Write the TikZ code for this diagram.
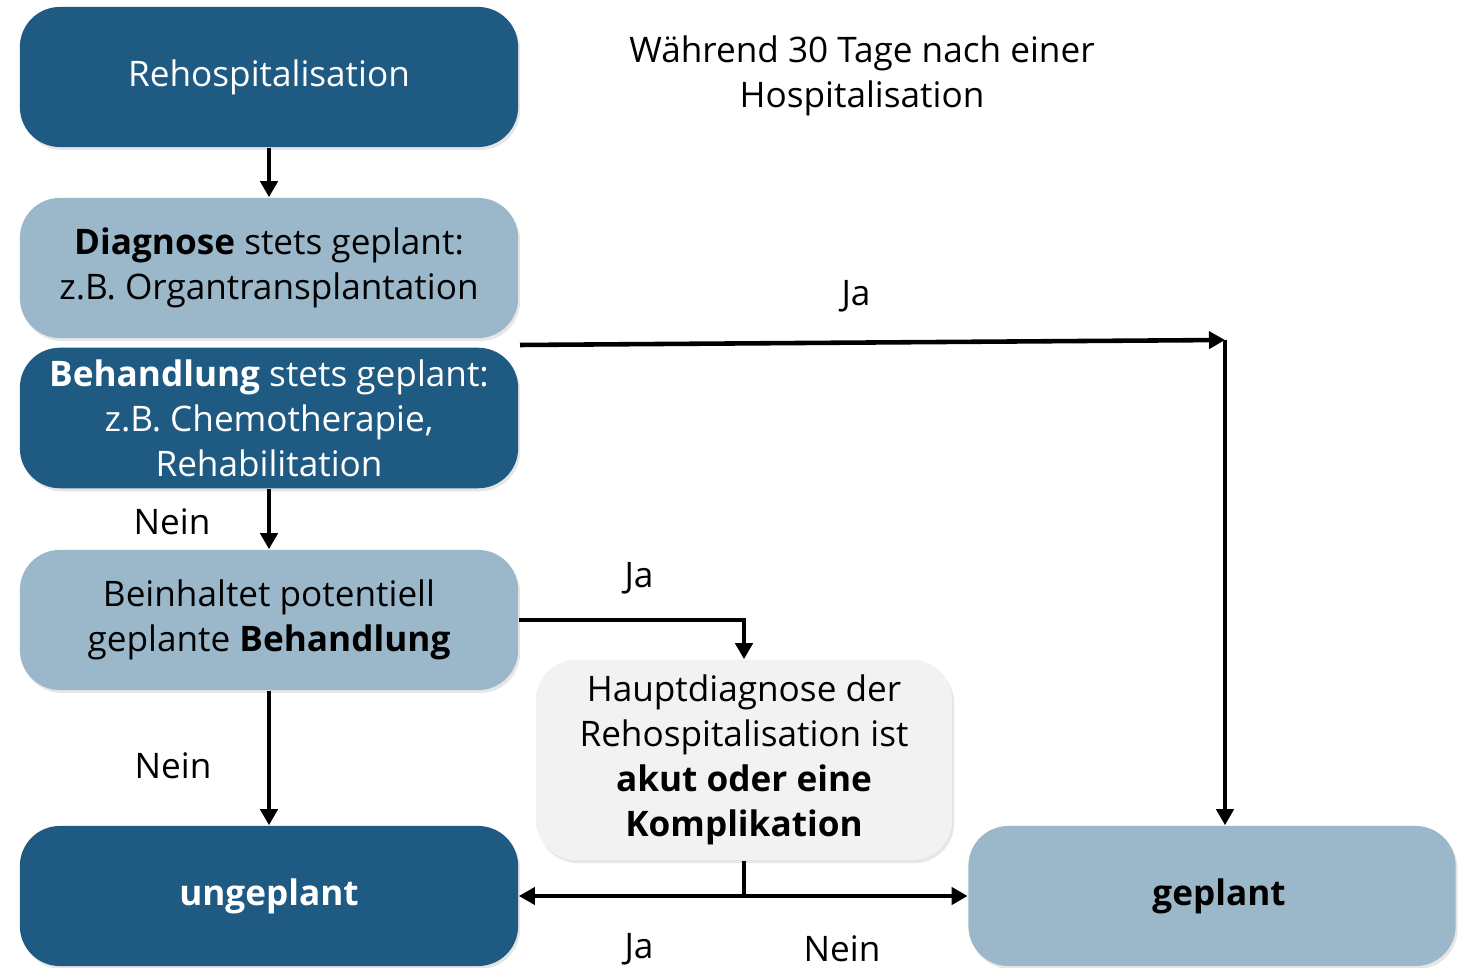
\documentclass[tikz,border=0pt]{standalone}
\usepackage{fontspec}
\setmainfont{Open Sans}
\usetikzlibrary{arrows.meta,shadows}

\definecolor{darkblue}{RGB}{31,90,130}
\definecolor{lightblue}{RGB}{155,184,202}
\definecolor{boxgray}{RGB}{242,242,242}

\tikzset{
  box/.style={rounded corners=0.4cm, minimum width=4.98cm, minimum height=1.4cm,
    align=center, font=\fontsize{10}{12.8}\selectfont,
    drop shadow={shadow xshift=0.02cm, shadow yshift=-0.03cm, opacity=0.2}},
  darkbox/.style={box, fill=darkblue, text=white},
  lightbox/.style={box, fill=lightblue, text=black},
  graybox/.style={box, fill=boxgray, text=black, minimum width=4.16cm, minimum height=2cm},
  arr/.style={line width=1.3pt, -{Triangle[length=0.16cm,width=0.17cm]}},
  lbl/.style={font=\fontsize{10}{12.8}\selectfont},
}

\begin{document}
\begin{tikzpicture}[x=0.01cm, y=-0.01cm]
  \useasboundingbox (0,0) rectangle (1458,968);

  % left column
  \node[darkbox] (rehosp) at (269,77) {Rehospitalisation};
  \node[lightbox] (diag) at (269,268) {\textbf{Diagnose} stets geplant:\\z.B. Organtransplantation};
  \node[darkbox] (behand) at (269,418) {\textbf{Behandlung} stets geplant:\\z.B. Chemotherapie,\\Rehabilitation};
  \node[lightbox] (beinh) at (269,620) {Beinhaltet potentiell\\geplante \textbf{Behandlung}};
  \node[darkbox] (ungeplant) at (269,896) {\textbf{ungeplant}};

  % right side
  \node[graybox] (haupt) at (744,760) {Hauptdiagnose der\\Rehospitalisation ist\\\textbf{akut oder eine}\\\textbf{Komplikation}};
  \node[lightbox, minimum width=4.87cm] (geplant) at (1212,896) {\hspace{0.14cm}\textbf{geplant}};

  \node[lbl, align=center] (title) at (862,76) {Während 30 Tage nach einer\\Hospitalisation};

  % helper points
  \coordinate (jastart) at (520,345);
  \coordinate (jacorner) at (1225,340);
  \coordinate (split) at (haupt.south |- ungeplant);

  % connectors
  \draw[arr] (rehosp) -- (diag);
  \draw[arr] (behand) -- (beinh);
  \draw[arr] (beinh) -- (ungeplant);
  \draw[arr] (beinh.east) -| (haupt.north);
  \draw[arr] (jastart) -- (jacorner);
  \draw[arr] (jacorner) -- (geplant.north -| jacorner);
  \draw[line width=1.3pt] (haupt.south) -- (split);
  \draw[arr] (split) -- (ungeplant.east);
  \draw[arr] (split) -- (geplant.west);

  % labels
  \node[lbl] (ja1) at (856,296) {Ja};
  \node[lbl] (nein1) at (172,522) {Nein};
  \node[lbl] (ja2) at (639,578) {Ja};
  \node[lbl] (nein2) at (173,766) {Nein};
  \node[lbl] (ja3) at (639,949) {Ja};
  \node[lbl] (nein3) at (842,949) {Nein};
\end{tikzpicture}
\end{document}
